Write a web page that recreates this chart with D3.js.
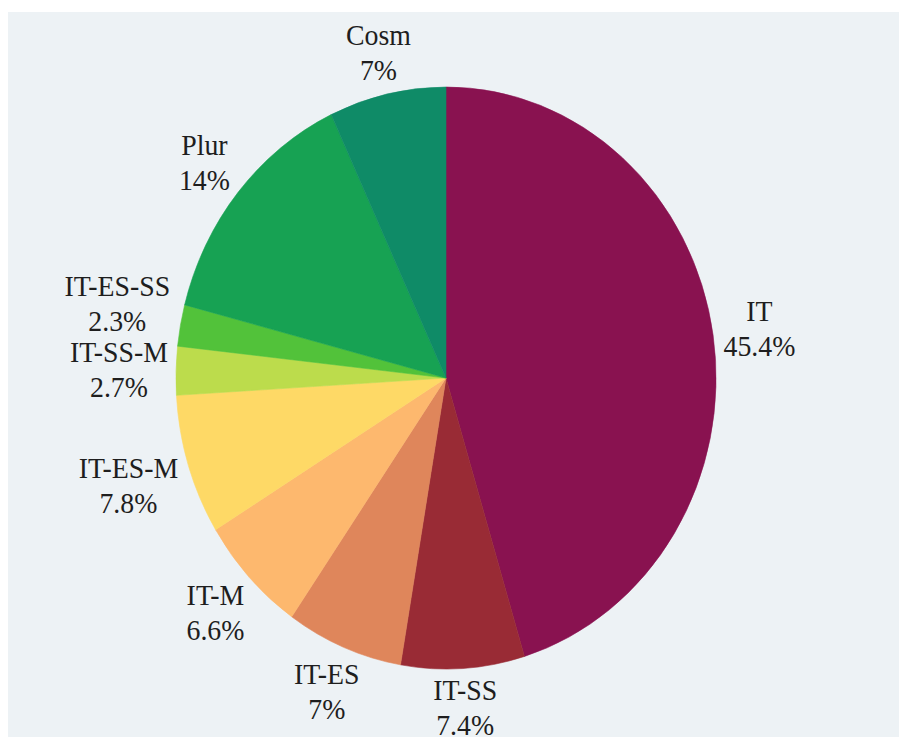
<!DOCTYPE html>
<html>
<head>
<meta charset="utf-8">
<script src="https://cdn.jsdelivr.net/npm/d3@7"></script>
<style>
  html, body { margin: 0; padding: 0; background: #ffffff; }
  svg { display: block; }
  .label text { font-family: "Liberation Serif", Tinos, "Times New Roman", "DejaVu Serif", serif; font-size: 30px; }
</style>
</head>
<body>
<svg id="chart" width="899" height="737"></svg>
<script>
// Share of publications by research category (clockwise from 12 o'clock)
const categories = ["IT", "IT-SS", "IT-ES", "IT-M", "IT-ES-M", "IT-SS-M", "IT-ES-SS", "Plur", "Cosm"];
const shares = [45.4, 7.4, 7, 6.6, 7.8, 2.7, 2.3, 14, 7];
const sliceColors = ["#891250", "#992b35", "#df865b", "#fdb86e", "#fed966", "#bcdc4c", "#52c23a", "#17a253", "#0f8b67"];

const W = 899, H = 737;
const cx = 446, cy = 378;
const R = 291;            // pie radius before horizontal squeeze
const squeeze = 0.928;    // horizontal aspect of the drawing
const gap = 8;            // space between pie edge and label box
const lineGap = 35;       // distance between the two label lines

const svg = d3.select("#chart");

svg.append("rect")
  .attr("x", 8).attr("y", 12)
  .attr("width", W - 8).attr("height", H - 12)
  .attr("fill", "#edf2f5");

const g = svg.append("g")
  .attr("transform", `translate(${cx},${cy}) scale(${squeeze},1)`);

const color = d3.scaleOrdinal().domain(categories).range(sliceColors);

const pie = d3.pie()
  .sort(null)
  .value(d => d.value)
  .startAngle(0)
  .endAngle(2 * Math.PI);

const data = categories.map((c, i) => ({ name: c, value: shares[i] }));
const arcs = pie(data);

const arc = d3.arc().innerRadius(0).outerRadius(R);

g.selectAll("path.slice")
  .data(arcs)
  .join("path")
  .attr("class", "slice")
  .attr("d", arc)
  .attr("fill", d => color(d.data.name))
  .attr("stroke", d => color(d.data.name))
  .attr("stroke-width", 0.6);

// Outside labels: two lines (name, percent), box pushed just outside the rim
const labels = g.selectAll("g.label")
  .data(arcs)
  .join("g")
  .attr("class", "label")
  .attr("fill", "#1e1e1e")
  .attr("text-anchor", "middle");

labels.append("text").attr("class", "l1").attr("y", -7).text(d => d.data.name);
labels.append("text").attr("class", "l2").attr("y", -7 + lineGap).text(d => d.data.value + "%");

const hh = 28.5;
const placed = [];
labels.each(function(d) {
  const sel = d3.select(this);
  const w = Math.max(
    sel.select(".l1").node().getComputedTextLength(),
    sel.select(".l2").node().getComputedTextLength()
  );
  const hw = w / 2;
  const a = (d.startAngle + d.endAngle) / 2;
  const ux = Math.sin(a), uy = -Math.cos(a);
  const r = R + gap + hw * Math.abs(ux) + hh * Math.abs(uy);
  placed.push({ node: this, x: r * ux, y: r * uy, side: ux < 0 ? -1 : 1 });
});

// Keep neighbouring labels on the same side from overlapping
const minSep = 66;
[-1, 1].forEach(side => {
  const upper = placed.filter(p => p.side === side && p.y < 0).sort((a, b) => b.y - a.y);
  for (let i = 1; i < upper.length; i++) {
    if (upper[i - 1].y - upper[i].y < minSep) upper[i].y = upper[i - 1].y - minSep;
  }
  const lower = placed.filter(p => p.side === side && p.y >= 0).sort((a, b) => a.y - b.y);
  for (let i = 1; i < lower.length; i++) {
    if (lower[i].y - lower[i - 1].y < minSep) lower[i].y = lower[i - 1].y + minSep;
  }
});

placed.forEach(p => d3.select(p.node).attr("transform", `translate(${p.x},${p.y})`));
</script>
</body>
</html>
